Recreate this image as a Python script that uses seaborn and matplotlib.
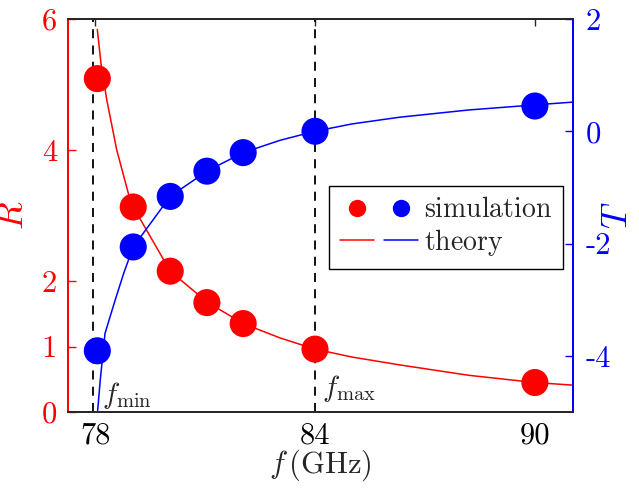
import numpy as np
import pandas as pd
import seaborn as sns
import matplotlib.pyplot as plt
from matplotlib.lines import Line2D
from matplotlib.legend_handler import HandlerTuple

# simulation points
f_sim = [78.06, 79.04, 80.05, 81.05, 82.04, 84.0, 90.0]
R_sim = [5.09, 3.13, 2.15, 1.67, 1.35, 0.96, 0.45]
T_sim = [-3.91, -2.06, -1.16, -0.71, -0.38, 0.0, 0.45]

# theory curves
f_th_R = [78.06, 78.16, 78.32, 78.59, 78.91, 79.04, 80.05, 81.05, 82.04, 83.05, 84.0, 85.0, 86.3, 88.2, 90.0, 91.04]
R_th = [5.84, 5.32, 4.76, 4.0, 3.33, 3.13, 2.15, 1.68, 1.35, 1.13, 0.96, 0.84, 0.72, 0.56, 0.45, 0.41]
f_th_T = [78.07, 78.14, 78.27, 78.55, 78.79, 79.04, 80.05, 81.05, 82.04, 83.05, 84.0, 85.0, 86.3, 88.2, 90.0, 91.04]
T_th = [-4.97, -4.43, -3.6, -3.0, -2.51, -2.06, -1.16, -0.71, -0.38, -0.16, 0.0, 0.13, 0.25, 0.38, 0.47, 0.52]

f_min, f_max = 77.93, 84.0
x_ticks = [78, 84, 90]
R_ticks = [0, 1, 2, 4, 6]
T_ticks = [-4, -2, 0, 2]

sns.set_style("white")
plt.rcParams['font.family'] = ['cmr10', 'DejaVu Serif']
plt.rcParams['mathtext.fontset'] = 'cm'
plt.rcParams['axes.unicode_minus'] = False

red, blue, dark = '#ff0000', '#0000ff', '#262626'
fs = 20
tfs = 22

fig = plt.figure(figsize=(6.39, 4.95), dpi=100)
ax = fig.add_axes([68 / 639, 1 - 412 / 495, 505 / 639, 393 / 495])
ax2 = ax.twinx()

sns.lineplot(x=f_th_R, y=R_th, ax=ax, color=red, lw=1.1, sort=False, estimator=None)
sns.scatterplot(x=f_sim, y=R_sim, ax=ax, color=red, s=380, edgecolor='none', zorder=5)
sns.lineplot(x=f_th_T, y=T_th, ax=ax2, color=blue, lw=1.1, sort=False, estimator=None)
sns.scatterplot(x=f_sim, y=T_sim, ax=ax2, color=blue, s=380, edgecolor='none', zorder=5)

for fv in (f_min, f_max):
    ax.axvline(fv, color='black', lw=1.3, ls=(0, (5, 4)))

ax.set_xlim(77.26, 91.04)
ax.set_ylim(0, 6)
ax2.set_ylim(-5, 2)

ax.set_xticks(x_ticks)
ax.set_xticklabels([str(v) for v in x_ticks], fontsize=tfs)
ax.set_yticks(R_ticks)
ax.set_yticklabels([str(v) for v in R_ticks], fontsize=tfs, color=red)
ax2.set_yticks(T_ticks)
ax2.set_yticklabels([str(v) for v in T_ticks], fontsize=tfs, color=blue)

ax.tick_params(axis='x', direction='in', length=5, width=1, colors=dark, top=True, pad=7,
               labelcolor='black')
ax.tick_params(axis='y', direction='in', length=6, width=1, colors=red, pad=8)
ax2.tick_params(axis='y', direction='in', length=6, width=1, colors=blue, pad=9)

for a in (ax, ax2):
    a.spines['top'].set_color(dark)
    a.spines['bottom'].set_color(dark)
    a.spines['left'].set_color(red)
    a.spines['right'].set_color(blue)
    for s in a.spines.values():
        s.set_linewidth(1.3)

ax.set_xlabel(r'$f\,(\mathrm{GHz})$', fontsize=tfs, labelpad=-1)
ax.set_ylabel(r'$R$', fontsize=26, color=red, labelpad=8)
ax2.set_ylabel(r'$T$', fontsize=26, color=blue)
ax2.yaxis.set_label_coords(1.058, 0.5)

ax.text(f_min + 0.25, 0.14, r'$f_{\rm min}$', fontsize=fs + 1)
ax.text(f_max + 0.2, 0.24, r'$f_{\rm max}$', fontsize=fs + 1)

sim_r = Line2D([], [], ls='none', marker='o', ms=12.5, color=red, mec='none')
sim_b = Line2D([], [], ls='none', marker='o', ms=12.5, color=blue, mec='none')
th_r = Line2D([], [], color=red, lw=1.1)
th_b = Line2D([], [], color=blue, lw=1.1)
leg = ax2.legend([(sim_r, sim_b), (th_r, th_b)],
                 [r'$\mathrm{simulation}$', r'$\mathrm{theory}$'],
                 handler_map={tuple: HandlerTuple(ndivide=None, pad=0.35)},
                 loc='upper left', bbox_to_anchor=(0.517, 0.575), borderaxespad=0,
                 fontsize=fs, handlelength=2.8, handletextpad=0.2,
                 fancybox=False, frameon=True, edgecolor='black', framealpha=1,
                 borderpad=0.4, labelspacing=0.12)
leg.get_frame().set_linewidth(1.0)

fig.savefig('out.png', dpi=100)
